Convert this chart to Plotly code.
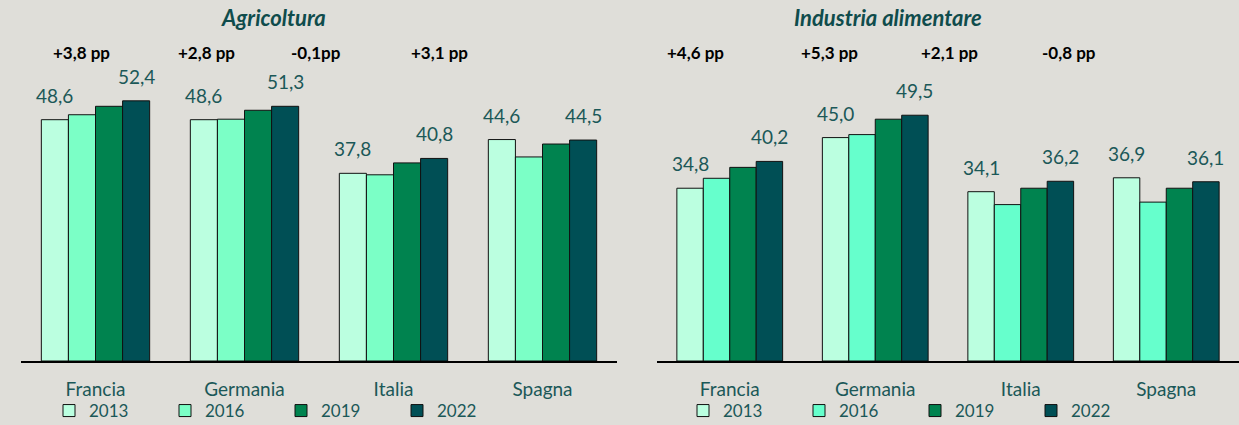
import plotly.graph_objects as go

# ---------------- data ----------------
countries = ["Francia", "Germania", "Italia", "Spagna"]
years = ["2013", "2016", "2019", "2022"]

agri_2013 = [48.6, 48.6, 37.8, 44.6]
agri_2016 = [49.6, 48.7, 37.5, 41.1]
agri_2019 = [51.3, 50.5, 39.9, 43.7]
agri_2022 = [52.4, 51.3, 40.8, 44.5]

ind_2013 = [34.8, 45.0, 34.1, 36.9]
ind_2016 = [36.8, 45.6, 31.5, 32.0]
ind_2019 = [39.0, 48.7, 34.8, 34.8]
ind_2022 = [40.2, 49.5, 36.2, 36.1]

agri_pp = ["+3,8 pp", "+2,8 pp", "-0,1pp", "+3,1 pp"]
ind_pp = ["+4,6 pp", "+5,3 pp", "+2,1 pp", "-0,8 pp"]
panel_titles = ["Agricoltura", "Industria alimentare"]

# ---------------- style ----------------
W, H = 1239, 425
BG = "#DFDED9"
LABEL = "#1B5858"
TITLE = "#0F4C4C"
FONT = "Lato"
colors_left = ["#BBFFE0", "#7BFFC6", "#00834F", "#004F55"]
colors_right = ["#BBFFE0", "#66FFCC", "#00834F", "#004F55"]

M_T, M_B = 60, 64
plot_h = H - M_T - M_B
px_per_unit = 4.965
y_max = plot_h / px_per_unit

dom1 = [21 / W, 617 / W]
dom2 = [657 / W, 1.0]
BARGAP = 0.273


def py(pix):
    """page pixel row -> paper y"""
    return (H - M_B - pix) / plot_h


fig = go.Figure()

panels = [
    ("x", "y", "legend", [agri_2013, agri_2016, agri_2019, agri_2022], colors_left, agri_pp, dom1,
     [0.1007, 0.312, 0.495, 0.703], 273.5 / W, panel_titles[0]),
    ("x2", "y2", "legend2", [ind_2013, ind_2016, ind_2019, ind_2022], colors_right, ind_pp, dom2,
     [0.0659, 0.297, 0.503, 0.708], 888 / W, panel_titles[1]),
]

annotations = []
for xa, ya, lg, series, cols, pp, dom, pp_x, title_x, title in panels:
    for yr, vals, c in zip(years, series, cols):
        fig.add_trace(go.Bar(
            x=countries, y=vals, name=yr, xaxis=xa, yaxis=ya, legend=lg,
            marker=dict(color=c, line=dict(color="#111111", width=1)),
            hoverinfo="x+y+name",
        ))
    # value labels on first and last year
    cat_px = (dom[1] - dom[0]) * W / len(countries)
    bar_px = cat_px * (1 - BARGAP) / len(years)
    for idx, sign in ((0, -1.5), (3, 1.5)):
        for ctry, v in zip(countries, series[idx]):
            annotations.append(dict(
                x=ctry, y=v, xref=xa, yref=ya, text=f"{v:.1f}".replace(".", ","),
                showarrow=False, yanchor="bottom", xanchor="center",
                xshift=sign * bar_px, yshift=11,
                font=dict(family=FONT, size=19, color=LABEL),
            ))
    # pp annotations
    axis_w = dom[1] - dom[0]
    for t, fx in zip(pp, pp_x):
        annotations.append(dict(
            x=dom[0] + fx * axis_w, y=py(52), xref="paper", yref="paper",
            text=f"<b>{t}</b>", showarrow=False, xanchor="center", yanchor="middle",
            font=dict(family=FONT, size=17, color="#000000"),
        ))
    annotations.append(dict(
        x=title_x, y=py(17), xref="paper", yref="paper",
        text=f"<b><i>{title}</i></b>",
        showarrow=False, xanchor="center", yanchor="middle",
        font=dict(family=FONT, size=22, color=TITLE),
    ))

axis_common = dict(
    showline=True, linecolor="#000000", linewidth=2, ticks="", showgrid=False,
    zeroline=False, tickfont=dict(family=FONT, size=19, color=LABEL),
    ticklabelstandoff=10, fixedrange=True,
)
yaxis_common = dict(range=[0, y_max], visible=False, showgrid=False, zeroline=False, fixedrange=True)

legend_common = dict(
    orientation="h", yanchor="middle", xanchor="left",
    y=py(411), bgcolor="rgba(0,0,0,0)",
    font=dict(family=FONT, size=17, color=LABEL),
    entrywidth=71, itemwidth=30, traceorder="normal",
)

fig.update_layout(
    width=W, height=H,
    margin=dict(l=0, r=0, t=M_T, b=M_B, pad=0, autoexpand=False),
    paper_bgcolor=BG, plot_bgcolor=BG,
    barmode="group", bargap=BARGAP, bargroupgap=0,
    xaxis=dict(domain=dom1, anchor="y", **axis_common),
    xaxis2=dict(domain=dom2, anchor="y2", **axis_common),
    yaxis=dict(domain=[0, 1], anchor="x", **yaxis_common),
    yaxis2=dict(domain=[0, 1], anchor="x2", **yaxis_common),
    legend=dict(x=49 / W, **legend_common),
    legend2=dict(x=683 / W, **legend_common),
    annotations=annotations,
    showlegend=True,
)

fig.write_html(
    "out.html",
    config={"displayModeBar": False},
    post_script="document.body.style.margin='0';document.body.style.background='" + BG + "';",
)
